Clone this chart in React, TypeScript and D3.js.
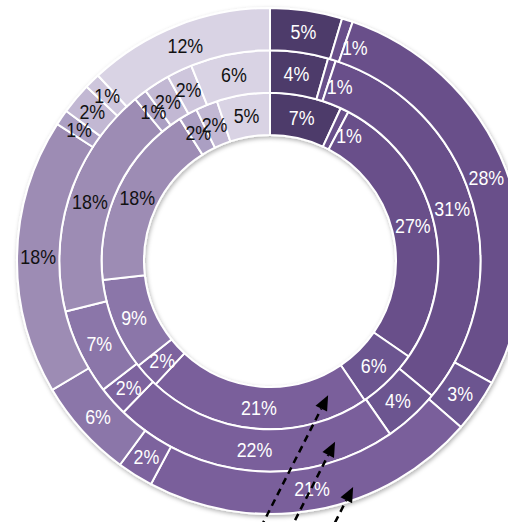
import { useMemo } from "react";
import * as d3 from "d3";

/* ------------------------------------------------------------------ */
/*  Data (percent of each ring, read clockwise from 12 o'clock)       */
/* ------------------------------------------------------------------ */

const categories = [
  "Cat 1", "Cat 2", "Cat 3", "Cat 4", "Cat 5", "Cat 6",
  "Cat 7", "Cat 8", "Cat 9", "Cat 10", "Cat 11", "Cat 12",
];

const innerValues = [6.9, 0.8, 26.9, 5.9, 21.4, 2.4, 8.9, 17.8, 1.8, 2.1, 0, 5.1];
const middleValues = [4.45, 0.6, 31.0, 4.3, 21.9, 2.3, 6.6, 17.8, 1.0, 2.0, 1.95, 6.1];
const outerValues = [4.6, 0.7, 27.7, 3.4, 21.4, 2.3, 6.4, 17.6, 1.0, 2.0, 1.0, 11.9];

const colors = [
  "#4e3a6b", "#69508a", "#69508a", "#6c5490", "#7a5e9b", "#7d639e",
  "#8b76a9", "#9d8cb4", "#ab9fc3", "#c2b8d3", "#cec6dc", "#d9d3e4",
];

/** Arrow annotations: ring index, angle (deg, clockwise from top), depth in ring. */
const arrowTargets = [
  { ring: 0, angle: 156.6, depth: 0.48 },
  { ring: 1, angle: 160.2, depth: 0.56 },
  { ring: 2, angle: 159.8, depth: 0.71 },
];

const rings = [innerValues, middleValues, outerValues];

/* ------------------------------------------------------------------ */
/*  Component                                                         */
/* ------------------------------------------------------------------ */

export default function App() {
  const width = 508;
  const height = 522;
  const cx = 270;
  const cy = 261;

  // ring boundaries: 0 -> inner hole edge, 3 -> outer edge
  const radius = d3.scaleLinear().domain([0, 3]).range([126, 253]);

  const pie = useMemo(
    () =>
      d3
        .pie<number>()
        .sort(null)
        .value((d) => d)
        .startAngle(0)
        .endAngle(2 * Math.PI),
    [],
  );

  const ringArcs = useMemo(
    () =>
      rings.map((vals, ri) => {
        const arc = d3
          .arc<d3.PieArcDatum<number>>()
          .innerRadius(radius(ri))
          .outerRadius(radius(ri + 1));
        const total = d3.sum(vals);
        return pie(vals).map((p, i) => ({
          key: `${ri}-${categories[i]}`,
          path: arc(p) ?? "",
          centroid: arc.centroid(p),
          value: p.data,
          pct: (p.data / total) * 100,
          color: colors[i],
          dark: i >= 7,
        }));
      }),
    [pie],
  );

  const arrowLen = 15;
  const arrowHalf = 6.5;
  const heading = (27 * Math.PI) / 180; // direction of travel, clockwise from up
  const ux = Math.sin(heading);
  const uy = -Math.cos(heading);

  return (
    <svg
      width={width}
      height={height}
      style={{ position: "absolute", left: 0, top: 0, background: "#fff" }}
    >
      <defs>
        <filter id="ringShadow" x="-10%" y="-10%" width="120%" height="120%">
          <feDropShadow dx={1} dy={2} stdDeviation={2} floodColor="#000" floodOpacity={0.3} />
        </filter>
      </defs>

      <g transform={`translate(${cx},${cy})`}>
        {/* Rings */}
        <g filter="url(#ringShadow)">
          {ringArcs.map((segs) =>
            segs
              .filter((s) => s.value > 0)
              .map((s) => (
                <path
                  key={s.key}
                  d={s.path}
                  fill={s.color}
                  stroke="#fff"
                  strokeWidth={2}
                  strokeLinejoin="round"
                />
              )),
          )}
        </g>

        {/* Labels */}
        {ringArcs.map((segs) =>
          segs
            .filter((s) => s.value > 0)
            .map((s) => {
              // thin slivers on the right get their label pushed just past the slice
              const small = s.pct < 1 && s.centroid[0] > 0;
              const x = small ? s.centroid[0] + 1 : s.centroid[0];
              const y = small ? s.centroid[1] + 7 : s.centroid[1];
              return (
                <text
                  key={`t-${s.key}`}
                  transform={`translate(${x},${y}) scale(0.85,1)`}
                  textAnchor={small ? "start" : "middle"}
                  dy="0.35em"
                  fontFamily="'Liberation Sans', Arial, sans-serif"
                  fontSize={21}
                  fill={s.dark ? "#111" : "#fff"}
                >
                  {Math.round(s.pct)}%
                </text>
              );
            }),
        )}

        {/* Arrows */}
        {arrowTargets.map((a, i) => {
          const r = radius(a.ring) + a.depth * (radius(a.ring + 1) - radius(a.ring));
          const t = (a.angle * Math.PI) / 180;
          const tipX = r * Math.sin(t);
          const tipY = -r * Math.cos(t);
          const baseX = tipX - ux * arrowLen;
          const baseY = tipY - uy * arrowLen;
          const tailX = tipX - ux * 400;
          const tailY = tipY - uy * 400;
          const px = -uy;
          const py = ux;
          const head = [
            [tipX, tipY],
            [baseX + px * arrowHalf, baseY + py * arrowHalf],
            [baseX - px * arrowHalf, baseY - py * arrowHalf],
          ]
            .map((p) => p.join(","))
            .join(" ");
          return (
            <g key={`arrow-${i}`}>
              <line
                x1={tailX}
                y1={tailY}
                x2={baseX}
                y2={baseY}
                stroke="#000"
                strokeWidth={2.5}
                strokeDasharray="7 5"
              />
              <polygon points={head} fill="#000" />
            </g>
          );
        })}
      </g>
    </svg>
  );
}
